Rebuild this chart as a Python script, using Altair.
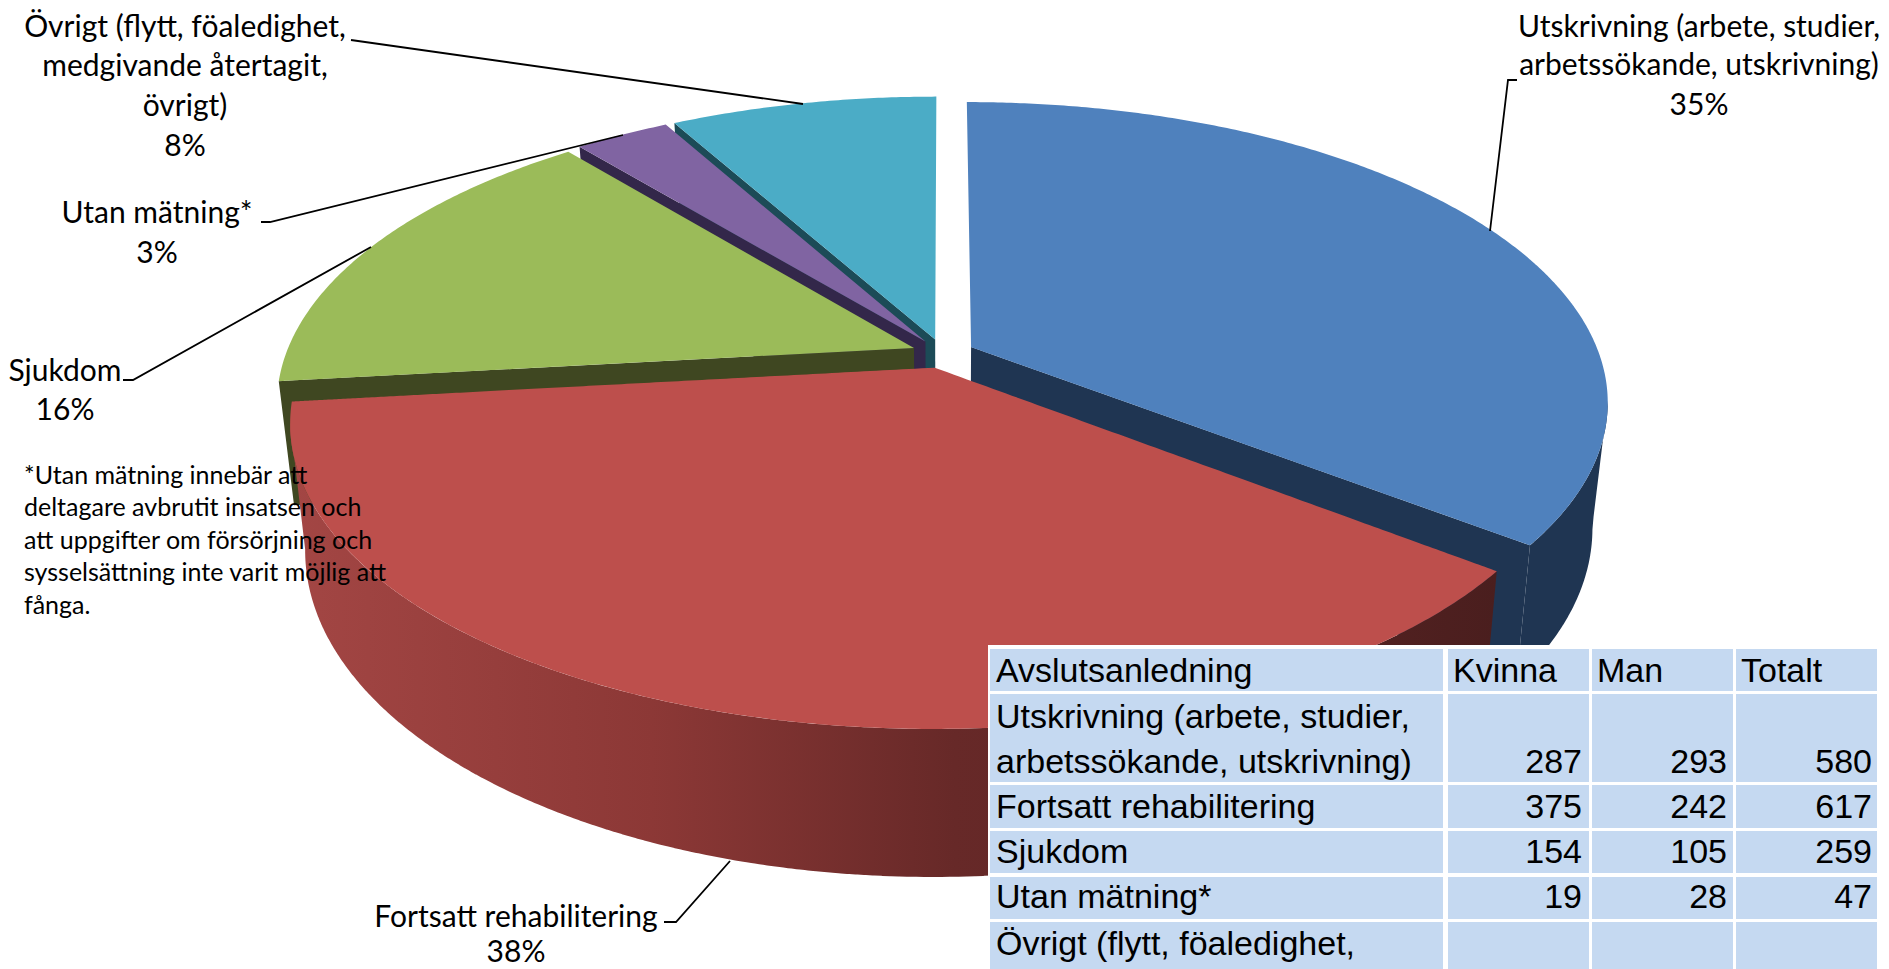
import math
import altair as alt
import pandas as pd

# ---- data -------------------------------------------------------------
slices = ["Utskrivning", "Fortsatt rehabilitering", "Sjukdom", "Utan mätning", "Övrigt"]
totals = [580, 617, 259, 47, 132]
top_colors = ["#4F81BD", "#BD4F4C", "#9BBB59", "#8064A2", "#4BACC6"]
wall_colors = ["#1F3552", "#4A1E1E", "#3F4721", "#33274A", "#1C4B57"]
radial_wall_edge = ["end", None, "start", "start", "start"]
paint_order = [4, 3, 2, 0, 1]
red_rim_stops = [(0.0, "#A34644"), (0.3, "#8C3836"), (0.55, "#672928"), (0.78, "#5A2423"), (1.0, "#4A1E1E")]

label_lines = [
    ["Utskrivning (arbete, studier,", "arbetssökande, utskrivning)", "35%"],
    ["Fortsatt rehabilitering", "38%"],
    ["Sjukdom", "16%"],
    ["Utan mätning*", "3%"],
    ["Övrigt (flytt, föaledighet,", "medgivande återtagit,", "övrigt)", "8%"],
]
label_x = [1699, 516, 65, 157, 185]
label_y = [[28, 66, 106], [918, 953], [372, 411], [214, 254], [28, 67, 107, 147]]
leader_x = [[1517, 1508, 1490], [664, 676, 730], [123, 133, 371], [261, 270, 623], [351, 358, 803]]
leader_y = [[80, 80, 231], [922, 922, 861], [380, 380, 247], [222, 222, 135], [40, 41, 104]]

note_lines = [
    "*Utan mätning innebär att",
    "deltagare  avbrutit insatsen och",
    "att uppgifter om försörjning och",
    "sysselsättning inte varit möjlig att",
    "fånga.",
]
note_y = [476, 508, 541, 573, 606]

table_head = ["Avslutsanledning", "Kvinna", "Man", "Totalt"]
table_names = [
    ["Utskrivning (arbete, studier,", "arbetssökande, utskrivning)"],
    ["Fortsatt rehabilitering"],
    ["Sjukdom"],
    ["Utan mätning*"],
    ["Övrigt (flytt, föaledighet,"],
]
table_kvinna = [287, 375, 154, 19]
table_man = [293, 242, 105, 28]
table_total = [580, 617, 259, 47]
col_left = [990, 1448, 1592, 1736]
col_right = [1443, 1589, 1733, 1877]
row_top = [649, 694, 785, 831, 877, 922]
row_bottom = [691, 782, 828, 873, 919, 975]
head_text_x = [996, 1453, 1597, 1741]
num_text_x = [1582, 1727, 1872]
head_y = 672
name_y = [[718, 763], [808], [853], [898], [945]]
num_y = [763, 808, 853, 898]

# ---- pie geometry ------------------------------------------------------
CX, CY, A, B, K, EXPLODE = 943.0, 353.5, 628.0, 291.0, 0.179, 0.05
VX, S, DEPTH, DEPTH_SLOPE, DEPTH_REF = 943.0, 0.977, 126.0, 0.069, 410.0
LABEL_FONT, TABLE_FONT = "Lato", "Liberation Sans"


def project(u, v):
    w = 1 - K * v
    return CX + A * u / w, CY + B * v / w


def lower(p):
    return VX + S * (p[0] - VX), p[1] + DEPTH + DEPTH_SLOPE * (p[1] - DEPTH_REF)


def envelope(poly):
    xs = sorted({round(p[0], 3) for p in poly})
    rows = []
    n = len(poly)
    for x in xs:
        hits = []
        for i in range(n):
            (x0, y0), (x1, y1) = poly[i], poly[(i + 1) % n]
            if min(x0, x1) - 1e-3 <= x <= max(x0, x1) + 1e-3:
                if abs(x1 - x0) < 1e-6:
                    hits += [y0, y1]
                else:
                    t = min(1.0, max(0.0, (x - x0) / (x1 - x0)))
                    hits.append(y0 + t * (y1 - y0))
        rows.append({"x": x, "y": min(hits), "y2": max(hits)})
    return pd.DataFrame(rows)


X_SCALE = alt.Scale(domain=[8, 1881], range=[0, 1873], nice=False, zero=False)
Y_SCALE = alt.Scale(domain=[8, 969], range=[0, 961], nice=False, zero=False)


def xq(f="x"):
    return alt.X(f"{f}:Q", scale=X_SCALE, axis=None)


def yq(f="y"):
    return alt.Y(f"{f}:Q", scale=Y_SCALE, axis=None)


def area_layer(poly, color):
    return (
        alt.Chart(envelope(poly))
        .mark_area(color=color, orient="vertical", strokeWidth=0)
        .encode(x=xq(), y=alt.Y("y:Q", scale=Y_SCALE, axis=None, stack=None), y2="y2:Q")
    )


whole = sum(totals)
layers = []
edges = []
acc = 0.0
for value in totals:
    edges.append((acc, acc + value / whole * 2 * math.pi))
    acc += value / whole * 2 * math.pi

LEFT_LIM = math.pi - math.acos(K)
RIGHT_LIM = math.pi + math.acos(K)

for i in paint_order:
    t0, t1 = edges[i]
    mid = (t0 + t1) / 2
    du, dv = EXPLODE * math.sin(mid), -EXPLODE * math.cos(mid)

    def rim(t):
        return project(du + math.sin(t), dv - math.cos(t))

    apex = project(du, dv)
    # radial side wall
    if radial_wall_edge[i]:
        t = t0 if radial_wall_edge[i] == "start" else t1
        r = rim(t)
        layers.append(area_layer([apex, r, lower(r), lower(apex)], wall_colors[i]))
    # outer rim wall
    a, b = max(t0, LEFT_LIM), min(t1, RIGHT_LIM)
    if b > a:
        steps = max(8, int((b - a) * 90))
        top = [rim(a + (b - a) * j / steps) for j in range(steps + 1)]
        fill = wall_colors[i]
        if i == 1:
            fill = alt.Gradient(
                gradient="linear", x1=0, x2=1, y1=0, y2=0,
                stops=[alt.GradientStop(offset=o, color=c) for o, c in red_rim_stops],
            )
        layers.append(area_layer(top + [lower(p) for p in reversed(top)], fill))
    # top face
    steps = max(8, int((t1 - t0) * 120))
    arc = [rim(t0 + (t1 - t0) * j / steps) for j in range(steps + 1)]
    layers.append(area_layer([apex] + arc, top_colors[i]))

# ---- leaders -----------------------------------------------------------
leader_rows = [
    {"id": s, "step": j, "x": x, "y": y}
    for s, xs, ys in zip(slices, leader_x, leader_y)
    for j, (x, y) in enumerate(zip(xs, ys))
]
layers.append(
    alt.Chart(pd.DataFrame(leader_rows))
    .mark_line(color="#000000", strokeWidth=1.8)
    .encode(x=xq(), y=yq(), detail="id:N", order="step:Q")
)

# ---- labels ------------------------------------------------------------
label_rows = [
    {"x": lx, "y": y, "t": t}
    for lx, ys, lines in zip(label_x, label_y, label_lines)
    for y, t in zip(ys, lines)
]
layers.append(
    alt.Chart(pd.DataFrame(label_rows))
    .mark_text(font=LABEL_FONT, fontSize=30, color="#000000", align="center", baseline="middle")
    .encode(x=xq(), y=yq(), text="t:N")
)
layers.append(
    alt.Chart(pd.DataFrame({"x": [24] * len(note_lines), "y": note_y, "t": note_lines}))
    .mark_text(font=LABEL_FONT, fontSize=25, color="#000000", align="left", baseline="middle")
    .encode(x=xq(), y=yq(), text="t:N")
)

# ---- table -------------------------------------------------------------
layers.append(
    alt.Chart(pd.DataFrame({"x": [988], "x2": [1880], "y": [645], "y2": [975]}))
    .mark_rect(color="#FFFFFF")
    .encode(x=xq(), x2="x2:Q", y=yq(), y2="y2:Q")
)
cell_rows = [
    {"x": l, "x2": r, "y": t, "y2": b}
    for l, r in zip(col_left, col_right)
    for t, b in zip(row_top, row_bottom)
]
layers.append(
    alt.Chart(pd.DataFrame(cell_rows))
    .mark_rect(color="#C5D9F1")
    .encode(x=xq(), x2="x2:Q", y=yq(), y2="y2:Q")
)
left_rows = [{"x": x, "y": head_y, "t": t} for x, t in zip(head_text_x, table_head)]
for lines, ys in zip(table_names, name_y):
    left_rows += [{"x": head_text_x[0], "y": y, "t": t} for y, t in zip(ys, lines)]
layers.append(
    alt.Chart(pd.DataFrame(left_rows))
    .mark_text(font=TABLE_FONT, fontSize=34, color="#000000", align="left", baseline="middle")
    .encode(x=xq(), y=yq(), text="t:N")
)
num_rows = []
for x, col in zip(num_text_x, [table_kvinna, table_man, table_total]):
    num_rows += [{"x": x, "y": y, "t": str(v)} for y, v in zip(num_y, col)]
layers.append(
    alt.Chart(pd.DataFrame(num_rows))
    .mark_text(font=TABLE_FONT, fontSize=34, color="#000000", align="right", baseline="middle")
    .encode(x=xq(), y=yq(), text="t:N")
)

chart = (
    alt.layer(*layers)
    .properties(width=1873, height=961, padding=0, autosize=alt.AutoSizeParams(type="none"))
    .configure_view(stroke=None)
)
chart.save("out.html", embed_options={"renderer": "svg", "actions": False})
